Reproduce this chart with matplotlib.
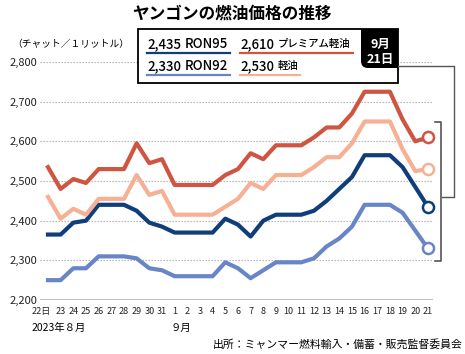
import matplotlib
matplotlib.use("Agg")
import matplotlib.pyplot as plt
from matplotlib.patches import Rectangle, FancyBboxPatch

plt.rcParams['font.family'] = ['Noto Sans CJK JP', 'DejaVu Sans']

# 2023/8/22 - 9/21
days = ['22日', '23', '24', '25', '26', '27', '28', '29', '30', '31',
        '1', '2', '3', '4', '5', '6', '7', '8', '9', '10',
        '11', '12', '13', '14', '15', '16', '17', '18', '19', '20', '21']

premium = [2535, 2480, 2505, 2495, 2530, 2530, 2530, 2595, 2545, 2555,
           2490, 2490, 2490, 2490, 2515, 2530, 2570, 2555, 2590, 2590,
           2590, 2610, 2635, 2635, 2670, 2725, 2725, 2725, 2655, 2600, 2610]
diesel = [2460, 2405, 2430, 2415, 2455, 2455, 2455, 2515, 2465, 2475,
          2415, 2415, 2415, 2415, 2435, 2455, 2495, 2480, 2515, 2515,
          2515, 2535, 2560, 2560, 2595, 2650, 2650, 2650, 2580, 2525, 2530]
ron95 = [2365, 2365, 2395, 2400, 2440, 2440, 2440, 2425, 2395, 2385,
         2370, 2370, 2370, 2370, 2405, 2390, 2360, 2400, 2415, 2415,
         2415, 2425, 2450, 2480, 2510, 2565, 2565, 2565, 2535, 2485, 2435]
ron92 = [2250, 2250, 2280, 2280, 2310, 2310, 2310, 2305, 2280, 2275,
         2260, 2260, 2260, 2260, 2295, 2280, 2255, 2275, 2295, 2295,
         2295, 2305, 2335, 2355, 2385, 2440, 2440, 2440, 2420, 2375, 2330]

yticks = [2200, 2300, 2400, 2500, 2600, 2700, 2800]

c_prem = '#cf5541'
c_dies = '#f6b093'
c_r95 = '#0f3e7a'
c_r92 = '#6886c6'

W, H = 465, 354
fig = plt.figure(figsize=(W / 100, H / 100), dpi=100)
ax = fig.add_axes([40 / W, 54 / H, 393 / W, 238 / H])

x = list(range(len(days)))
for vals, col in [(ron92, c_r92), (ron95, c_r95), (diesel, c_dies), (premium, c_prem)]:
    ax.plot(x, vals, color=col, lw=3, solid_joinstyle='round', zorder=3)
    ax.plot(x[-1], vals[-1], 'o', mfc='white', mec=col, ms=8, mew=1.8,
            zorder=4, clip_on=False)

ax.set_xlim(-0.63, 30.4)
ax.set_ylim(2200, 2800)
ax.set_yticks(yticks)
ax.set_yticklabels([f'{v:,}' for v in yticks], fontsize=8, color='#222222')
ax.set_xticks(x)
ax.set_xticklabels([''] + days[1:], fontsize=6.5, color='#222222')
ax.tick_params(length=0)
ax.tick_params(axis='y', pad=2)
ax.tick_params(axis='x', pad=5)
# first label "22日" sits a bit left of its tick
ax.annotate(days[0], xy=(-0.55, 0), xycoords=('data', 'axes fraction'),
            xytext=(0, -5), textcoords='offset points', ha='center', va='top',
            fontsize=6.5, color='#222222', annotation_clip=False)
for y in yticks[1:]:
    ax.axhline(y, color='#aaaaaa', lw=0.8, ls=(0, (1.2, 1.5)), zorder=1)
ax.axhline(2200, color='#bbbbbb', lw=2, zorder=1)
for s in ax.spines.values():
    s.set_visible(False)

# overlay in pixel coords
ov = fig.add_axes([0, 0, 1, 1])
ov.set_xlim(0, W)
ov.set_ylim(H, 0)
ov.axis('off')
ov.patch.set_alpha(0)

ov.text(232, 13, 'ヤンゴンの燃油価格の推移', fontsize=12, fontweight='bold',
        ha='center', va='center')
ov.text(12, 44, '（チャット／１リットル）', fontsize=7, ha='left', va='center')

ov.add_patch(Rectangle((138, 29), 260, 54, fc='white', ec='black', lw=1.3, zorder=2))
ov.add_patch(FancyBboxPatch((361, 29), 37, 39, boxstyle='round,pad=0,rounding_size=7',
                            fc='black', ec='none', zorder=3))
ov.add_patch(Rectangle((361, 29), 37, 30, fc='black', ec='none', zorder=3))
ov.add_patch(Rectangle((370, 29), 28, 39, fc='black', ec='none', zorder=3))
ov.text(380, 44, '9月', color='white', fontsize=9, fontweight='bold',
        ha='center', va='center', zorder=4)
ov.text(380, 59, '21日', color='white', fontsize=9, fontweight='bold',
        ha='center', va='center', zorder=4)

entries = [(147, 44, 230, ron95, 'RON95', c_r95),
           (240, 44, 353, premium, 'プレミアム軽油', c_prem),
           (147, 66.5, 230, ron92, 'RON92', c_r92),
           (240, 66.5, 300, diesel, '軽油', c_dies)]
for x0, y0, x1, vals, name, col in entries:
    small = name not in ('RON95', 'RON92')
    ov.text(x0, y0, f'{vals[-1]:,}', fontsize=9.5, fontweight='medium',
            ha='left', va='center', zorder=4)
    ov.text(x0 + 38, y0, name, fontsize=7.5 if small else 9.5,
            fontweight='medium', ha='left', va='center', zorder=4)
    ov.plot([x0, x1], [y0 + 8.5, y0 + 8.5], color=col, lw=1.6, zorder=4)

ov.plot([398, 454, 454, 442], [66, 66, 197, 197], color='#555555', lw=1, zorder=2)
ov.plot([435, 441, 441, 435], [122, 122, 261, 261], color='#555555', lw=1.2, zorder=2)

ov.text(32, 328, '2023年８月', fontsize=7.5, ha='left', va='center')
ov.text(171, 328, '９月', fontsize=7.5, ha='left', va='center')
ov.text(463, 344, '出所：ミャンマー燃料輸入・備蓄・販売監督委員会', fontsize=7.8,
        ha='right', va='center')

fig.savefig('out.png', dpi=100)
